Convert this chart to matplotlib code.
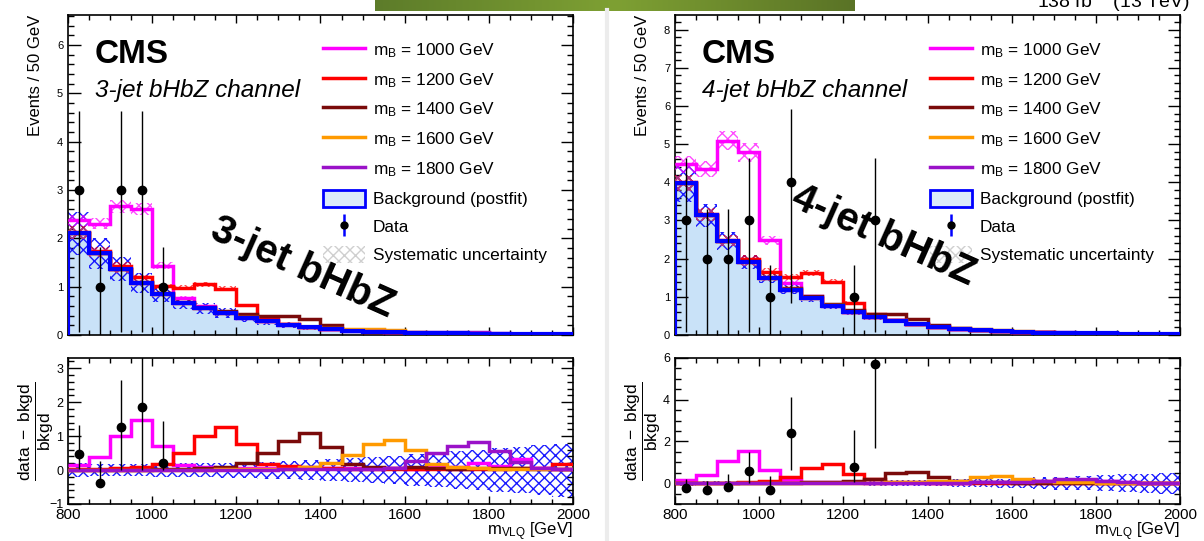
import numpy as np
import matplotlib.pyplot as plt
from matplotlib.lines import Line2D
from matplotlib.patches import Patch
from matplotlib.ticker import MultipleLocator
from matplotlib.colors import LinearSegmentedColormap

plt.rcParams['font.family'] = ['Liberation Sans', 'DejaVu Sans']
plt.rcParams['mathtext.fontset'] = 'custom'
plt.rcParams['mathtext.rm'] = 'Liberation Sans'
plt.rcParams['mathtext.it'] = 'Liberation Sans:italic'
plt.rcParams['mathtext.bf'] = 'Liberation Sans:bold'
plt.rcParams['hatch.linewidth'] = 1.0

# 50 GeV bins from 800 to 2000 GeV
edges = np.arange(800, 2001, 50)
masses = [1000, 1200, 1400, 1600, 1800]
sig_colors = ['#ff00ff', '#ff0000', '#7a0a0a', '#ff9a00', '#9a12c8']

# ---- 3-jet channel ----
bkg3 = [2.10, 1.69, 1.36, 1.08, 0.85, 0.66, 0.55, 0.45, 0.36, 0.28, 0.21, 0.16,
        0.12, 0.09, 0.07, 0.055, 0.045, 0.04, 0.035, 0.03, 0.025, 0.02, 0.018, 0.015]
unc3 = [0.21, 0.19, 0.18, 0.19, 0.20, 0.20, 0.21, 0.22, 0.23, 0.25, 0.27, 0.29,
        0.32, 0.35, 0.39, 0.42, 0.46, 0.50, 0.55, 0.60, 0.64, 0.69, 0.74, 0.78]
s1000_3 = [2.37, 2.30, 2.66, 2.61, 1.43, 0.76, 0.60, 0.48, 0.38, 0.29, 0.22, 0.17,
           0.127, 0.095, 0.074, 0.058, 0.047, 0.043, 0.039, 0.036, 0.028, 0.027, 0.019, 0.015]
s1200_3 = [2.14, 1.74, 1.43, 1.19, 1.01, 0.98, 1.05, 0.96, 0.62, 0.33, 0.235, 0.17,
           0.126, 0.094, 0.072, 0.057, 0.046, 0.041, 0.036, 0.031, 0.026, 0.021, 0.019, 0.018]
s1400_3 = [2.10, 1.69, 1.36, 1.09, 0.87, 0.68, 0.58, 0.50, 0.44, 0.39, 0.39, 0.33,
           0.21, 0.105, 0.076, 0.058, 0.049, 0.042, 0.036, 0.031, 0.026, 0.021, 0.019, 0.015]
s1600_3 = [2.10, 1.69, 1.36, 1.08, 0.85, 0.67, 0.56, 0.46, 0.37, 0.29, 0.22, 0.17,
           0.145, 0.13, 0.124, 0.104, 0.072, 0.047, 0.038, 0.032, 0.026, 0.021, 0.019, 0.015]
s1800_3 = [2.10, 1.69, 1.36, 1.08, 0.85, 0.66, 0.55, 0.45, 0.36, 0.28, 0.21, 0.16,
           0.124, 0.093, 0.073, 0.058, 0.057, 0.060, 0.060, 0.055, 0.039, 0.025, 0.019, 0.015]
r1000_3 = [0.14, 0.39, 1.00, 1.48, 0.72, 0.16, 0.09, 0.07, 0.06, 0.05, 0.05, 0.05,
           0.06, 0.05, 0.06, 0.05, 0.04, 0.08, 0.10, 0.20, 0.12, 0.33, 0.05, 0.02]
r1200_3 = [0.02, 0.03, 0.05, 0.10, 0.19, 0.49, 0.99, 1.26, 0.77, 0.19, 0.12, 0.08,
           0.05, 0.04, 0.03, 0.03, 0.03, 0.02, 0.02, 0.03, 0.04, 0.05, 0.05, 0.18]
r1400_3 = [0.00, 0.00, 0.00, 0.01, 0.02, 0.03, 0.05, 0.10, 0.21, 0.50, 0.87, 1.10,
           0.68, 0.17, 0.08, 0.05, 0.08, 0.06, 0.03, 0.05, 0.05, 0.05, 0.03, 0.02]
r1600_3 = [0.00, 0.00, 0.00, 0.00, 0.00, 0.01, 0.01, 0.02, 0.02, 0.03, 0.04, 0.08,
           0.21, 0.43, 0.77, 0.89, 0.60, 0.17, 0.08, 0.05, 0.04, 0.04, 0.03, 0.03]
r1800_3 = [0.00, 0.00, 0.00, 0.00, 0.00, 0.00, 0.00, 0.01, 0.01, 0.01, 0.02, 0.02,
           0.03, 0.03, 0.04, 0.05, 0.26, 0.49, 0.70, 0.84, 0.57, 0.24, 0.05, 0.02]
data_x3 = [825, 875, 925, 975, 1025]
data_y3 = [3, 1, 3, 3, 1]
data_lo3 = [0.07, 0.0, 0.07, 0.07, 0.0]
data_hi3 = [4.63, 1.83, 4.63, 4.63, 1.83]
rdata_y3 = [0.46, -0.39, 1.28, 1.85, 0.20]
rdata_lo3 = [0.03, -0.45, 0.0, 0.0, 0.0]
rdata_hi3 = [1.32, 0.26, 2.64, 3.6, 1.43]

# ---- 4-jet channel ----
bkg4 = [3.97, 3.13, 2.46, 1.91, 1.50, 1.19, 0.96, 0.76, 0.59, 0.46, 0.375, 0.28,
        0.20, 0.16, 0.13, 0.10, 0.08, 0.065, 0.055, 0.045, 0.04, 0.035, 0.03, 0.025]
unc4 = [0.12, 0.10, 0.10, 0.10, 0.10, 0.10, 0.10, 0.11, 0.11, 0.12, 0.13, 0.14,
        0.16, 0.18, 0.20, 0.22, 0.25, 0.28, 0.31, 0.34, 0.38, 0.42, 0.46, 0.50]
s1000_4 = [4.47, 4.35, 5.09, 4.78, 2.48, 1.37, 1.01, 0.79, 0.61, 0.47, 0.39, 0.29,
           0.21, 0.165, 0.135, 0.105, 0.084, 0.07, 0.06, 0.05, 0.043, 0.037, 0.031, 0.026]
s1200_4 = [4.00, 3.16, 2.50, 2.00, 1.66, 1.52, 1.62, 1.40, 0.85, 0.55, 0.39, 0.29,
           0.21, 0.165, 0.134, 0.103, 0.082, 0.067, 0.057, 0.046, 0.041, 0.036, 0.031, 0.026]
s1400_4 = [3.97, 3.13, 2.46, 1.93, 1.53, 1.23, 1.01, 0.81, 0.65, 0.56, 0.555, 0.43,
           0.26, 0.176, 0.137, 0.104, 0.082, 0.067, 0.057, 0.046, 0.041, 0.036, 0.031, 0.026]
s1600_4 = [3.97, 3.13, 2.46, 1.91, 1.50, 1.20, 0.97, 0.78, 0.60, 0.47, 0.39, 0.30,
           0.22, 0.176, 0.166, 0.132, 0.096, 0.07, 0.058, 0.047, 0.041, 0.036, 0.031, 0.026]
s1800_4 = [3.97, 3.13, 2.46, 1.91, 1.50, 1.19, 0.96, 0.76, 0.60, 0.46, 0.38, 0.29,
           0.20, 0.165, 0.135, 0.105, 0.085, 0.072, 0.066, 0.053, 0.045, 0.037, 0.031, 0.026]
r1000_4 = [0.13, 0.40, 1.07, 1.52, 0.65, 0.15, 0.05, 0.04, 0.04, 0.03, 0.03, 0.03,
           0.03, 0.03, 0.04, 0.05, 0.05, 0.08, 0.10, 0.12, 0.08, 0.05, 0.03, 0.02]
r1200_4 = [0.01, 0.01, 0.02, 0.05, 0.10, 0.30, 0.72, 0.90, 0.45, 0.20, 0.05, 0.04,
           0.03, 0.03, 0.03, 0.03, 0.03, 0.03, 0.03, 0.03, 0.03, 0.03, 0.02, 0.02]
r1400_4 = [0.00, 0.00, 0.00, 0.01, 0.02, 0.03, 0.05, 0.07, 0.10, 0.22, 0.48, 0.52,
           0.28, 0.10, 0.05, 0.04, 0.03, 0.03, 0.03, 0.03, 0.02, 0.02, 0.02, 0.02]
r1600_4 = [0.00, 0.00, 0.00, 0.00, 0.00, 0.01, 0.01, 0.02, 0.02, 0.03, 0.05, 0.06,
           0.08, 0.10, 0.28, 0.32, 0.20, 0.08, 0.05, 0.04, 0.03, 0.03, 0.02, 0.02]
r1800_4 = [0.00, 0.00, 0.00, 0.00, 0.00, 0.00, 0.00, 0.00, 0.01, 0.01, 0.01, 0.02,
           0.02, 0.03, 0.04, 0.05, 0.06, 0.10, 0.20, 0.18, 0.12, 0.05, 0.03, 0.02]
data_x4 = [825, 875, 925, 975, 1025, 1075, 1225, 1275]
data_y4 = [3, 2, 2, 3, 1, 4, 1, 3]
data_lo4 = [0.08, 0.0, 0.0, 0.07, 0.0, 0.83, 0.0, 0.07]
data_hi4 = [4.63, 3.30, 3.30, 4.63, 1.83, 5.92, 1.83, 4.63]
rdata_y4 = [-0.24, -0.33, -0.20, 0.57, -0.35, 2.40, 0.77, 5.72]
rdata_lo4 = [-0.30, -0.38, -0.25, 0.0, -0.40, 0.65, 0.05, 1.70]
rdata_hi4 = [0.22, 0.10, 0.42, 1.50, 0.35, 4.15, 2.55, 7.0]

W, H = 1204, 541
fig = plt.figure(figsize=(W / 100, H / 100), dpi=100)


def style_axes(ax, ymaj, ymin_, ylabsize, xlabels):
    ax.set_xlim(800, 2000)
    ax.xaxis.set_major_locator(MultipleLocator(200))
    ax.xaxis.set_minor_locator(MultipleLocator(50))
    ax.yaxis.set_major_locator(MultipleLocator(ymaj))
    ax.yaxis.set_minor_locator(MultipleLocator(ymin_))
    ax.tick_params(which='both', direction='in', top=True, right=True, width=1)
    ax.tick_params(axis='y', which='major', length=9, labelsize=ylabsize)
    ax.tick_params(axis='y', which='minor', length=4.5)
    ax.tick_params(axis='x', which='major', length=6, labelsize=11, pad=3)
    ax.tick_params(axis='x', which='minor', length=3.5)
    if not xlabels:
        ax.tick_params(axis='x', labelbottom=False)
    for s in ax.spines.values():
        s.set_linewidth(1.2)


def panel(x0, bkg, unc, sigs, ratios, dx, dy, dlo, dhi, rdy, rdlo, rdhi,
          chan, overlay, ocenter, ymax, rlim, rmaj, rmin):
    bkg = np.array(bkg)
    unc = np.array(unc)
    ax = fig.add_axes([x0 / W, 1 - 335 / H, 505 / W, 320 / H])
    axr = fig.add_axes([x0 / W, 1 - 504 / H, 505 / W, 146 / H])

    # main plot
    ax.stairs(bkg, edges, fill=True, color='#c9e2f8', lw=0, zorder=1)
    ax.stairs(bkg * (1 + unc), edges, baseline=bkg * (1 - unc), fill=True,
              facecolor='none', edgecolor='#1a1aff', hatch='xxx', lw=0, zorder=2)
    for s, c in zip(sigs, sig_colors):
        s = np.array(s)
        ax.stairs(s * 1.05, edges, baseline=s * 0.95, fill=True, facecolor='none',
                  edgecolor=c, hatch='xxx', lw=0, alpha=0.7, zorder=3)
    for s, c in zip(sigs, sig_colors):
        ax.stairs(s, edges, baseline=None, color=c, lw=2.5, zorder=4)
    ax.stairs(bkg, edges, color='#0000ff', lw=3, zorder=5)
    ax.errorbar(dx, dy, yerr=[np.array(dy) - np.array(dlo), np.array(dhi) - np.array(dy)],
                fmt='o', color='black', ms=6, elinewidth=1, capsize=0, zorder=6)
    ax.set_ylim(0, ymax)
    style_axes(ax, 1, 0.2, 8, False)

    ax.text(0.053, 0.85, 'CMS', transform=ax.transAxes, fontsize=24,
            fontweight='bold', va='baseline')
    ax.text(0.053, 0.745, chan, transform=ax.transAxes, fontsize=17.5,
            style='italic', va='baseline')
    ax.set_ylabel('Events / 50 GeV', fontsize=12, loc='top')
    ax.yaxis.set_label_coords(-0.05, 1.0)

    handles = [Line2D([], [], color=c, lw=2.5) for c in sig_colors]
    handles.append(Patch(facecolor='#dcebfa', edgecolor='#0000ff', lw=2))
    handles.append((Line2D([], [], color='#0000ff', marker='|', ms=16, mew=1.8, ls='none'),
                    Line2D([], [], color='black', marker='o', ms=5, ls='none')))
    handles.append(Patch(facecolor='white', edgecolor='#cfcfcf', hatch='xxx', lw=0))
    labels = [r'm$_{\mathregular{B}}$ = %d GeV' % m for m in masses]
    labels += ['Background (postfit)', 'Data', 'Systematic uncertainty']
    ax.legend(handles, labels, loc='upper left', bbox_to_anchor=(0.505, 0.92),
              frameon=False, fontsize=12.4, handlelength=2.45, handleheight=1.15,
              handletextpad=0.45, labelspacing=0.625, borderaxespad=0, borderpad=0)

    fig.text(ocenter[0] / W, 1 - ocenter[1] / H, overlay, fontsize=29, fontweight='bold',
             rotation=-24, ha='center', va='center', zorder=20)

    # ratio plot
    axr.stairs(unc, edges, baseline=-unc, fill=True, facecolor='none',
               edgecolor='#1a1aff', hatch='xxx', lw=0, zorder=1)
    for r, c in zip(ratios, sig_colors):
        axr.stairs(r, edges, baseline=None, color=c, lw=2.5, zorder=3)
    axr.errorbar(dx, rdy, yerr=[np.array(rdy) - np.array(rdlo), np.array(rdhi) - np.array(rdy)],
                 fmt='o', color='black', ms=6, elinewidth=1, capsize=0, zorder=5)
    axr.set_ylim(*rlim)
    style_axes(axr, rmaj, rmin, 9, True)
    axr.set_ylabel(r'$\dfrac{\mathrm{data\ -\ bkgd}}{\mathrm{bkgd}}$', fontsize=12.5)
    axr.yaxis.set_label_coords(-0.024, 0.5)
    axr.set_xlabel(r'm$_{\mathregular{VLQ}}$ [GeV]', fontsize=12, loc='right', labelpad=-1.5)


panel(68, bkg3, unc3, [s1000_3, s1200_3, s1400_3, s1600_3, s1800_3],
      [r1000_3, r1200_3, r1400_3, r1600_3, r1800_3],
      data_x3, data_y3, data_lo3, data_hi3, rdata_y3, rdata_lo3, rdata_hi3,
      '3-jet bHbZ channel', '3-jet bHbZ', (303, 268), 6.62, (-1, 3.3), 1, 0.2)
panel(675, bkg4, unc4, [s1000_4, s1200_4, s1400_4, s1600_4, s1800_4],
      [r1000_4, r1200_4, r1400_4, r1600_4, r1800_4],
      data_x4, data_y4, data_lo4, data_hi4, rdata_y4, rdata_lo4, rdata_hi4,
      '4-jet bHbZ channel', '4-jet bHbZ', (884, 236), 8.38, (-1, 6), 2, 0.5)

# decorations: green header bar, separator, lumi text
gax = fig.add_axes([375 / W, 1 - 11 / H, 480 / W, 11 / H])
grad = np.linspace(0, 1, 256)[None, :]
gcm = LinearSegmentedColormap.from_list('g', ['#5d7c2a', '#7ea033', '#5a7326'])
gax.imshow(grad, aspect='auto', cmap=gcm)
gax.axis('off')
fig.add_artist(Line2D([607 / W, 607 / W], [0, 1 - 10 / H], color='#ececec', lw=3))
fig.text(1190 / W, 1 - 7 / H, r'138 fb$^{-1}$ (13 TeV)', ha='right', va='baseline',
         fontsize=14)

fig.savefig('out.png', dpi=100)
